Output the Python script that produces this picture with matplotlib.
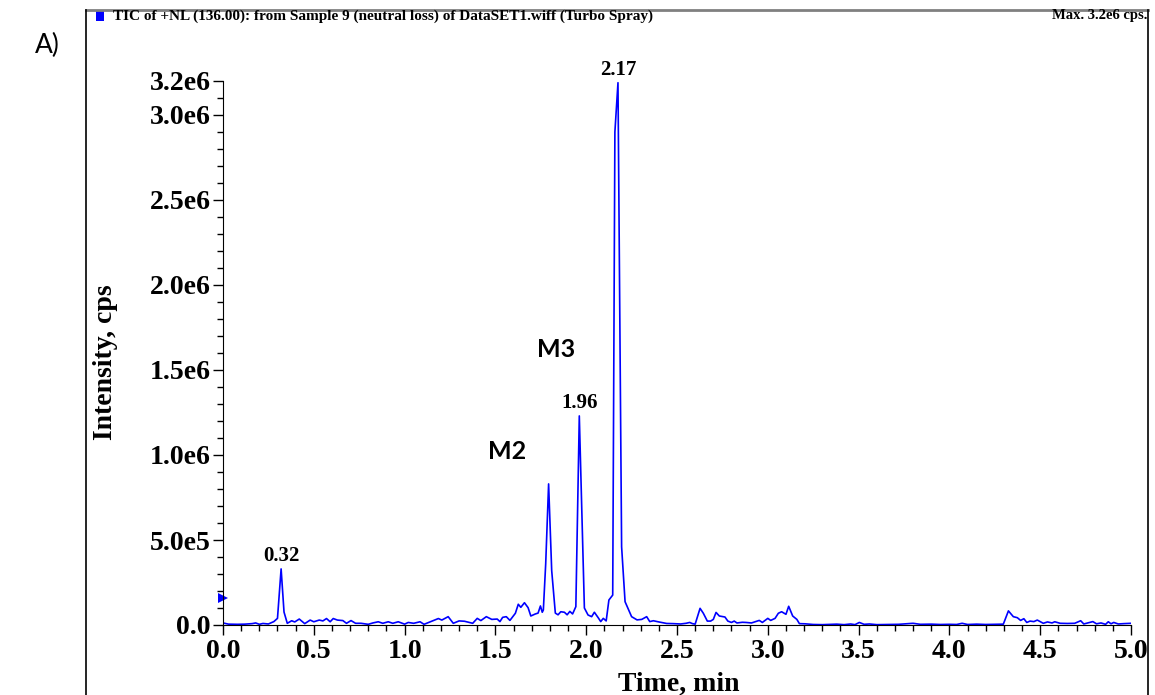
import numpy as np
import matplotlib
matplotlib.use("Agg")
import matplotlib.pyplot as plt
from matplotlib.lines import Line2D
from matplotlib.patches import Rectangle
from matplotlib.ticker import FixedLocator, MultipleLocator

# retention time (min) and TIC intensity (cps)
time_min = [
    0.00, 0.03, 0.08, 0.12, 0.16, 0.18, 0.20, 0.22, 0.25, 0.28, 0.30, 0.32,
    0.336, 0.354, 0.378, 0.395, 0.42, 0.45, 0.48, 0.50, 0.53, 0.55, 0.57,
    0.59, 0.607, 0.63, 0.66, 0.68, 0.705, 0.73, 0.76, 0.80, 0.825, 0.855,
    0.88, 0.91, 0.935, 0.965, 1.00, 1.02, 1.05, 1.085, 1.107, 1.14, 1.186,
    1.205, 1.24, 1.268, 1.30, 1.33, 1.375, 1.40, 1.42, 1.45, 1.48, 1.51,
    1.525, 1.54, 1.56, 1.58, 1.61, 1.626, 1.64, 1.66, 1.68, 1.695, 1.72,
    1.735, 1.748, 1.758, 1.764, 1.777, 1.793, 1.81, 1.83, 1.845, 1.86, 1.88,
    1.895, 1.91, 1.925, 1.943, 1.962, 1.99, 2.01, 2.03, 2.045, 2.066, 2.08,
    2.094, 2.11, 2.125, 2.146, 2.158, 2.175, 2.195, 2.214, 2.25, 2.28, 2.306,
    2.333, 2.35, 2.37, 2.40, 2.443, 2.48, 2.52, 2.55, 2.57, 2.585, 2.60,
    2.627, 2.645, 2.667, 2.685, 2.70, 2.715, 2.733, 2.764, 2.78, 2.80, 2.815,
    2.83, 2.86, 2.88, 2.91, 2.953, 2.97, 3.00, 3.016, 3.04, 3.058, 3.076,
    3.10, 3.115, 3.137, 3.16, 3.174, 3.205, 3.25, 3.30, 3.38, 3.42, 3.456,
    3.48, 3.504, 3.53, 3.56, 3.60, 3.66, 3.72, 3.80, 3.84, 3.90, 3.95, 4.00,
    4.04, 4.07, 4.10, 4.15, 4.20, 4.25, 4.297, 4.325, 4.352, 4.374, 4.392,
    4.41, 4.426, 4.444, 4.465, 4.484, 4.517, 4.54, 4.565, 4.58, 4.61, 4.65,
    4.69, 4.723, 4.74, 4.79, 4.81, 4.835, 4.86, 4.875, 4.89, 4.905, 4.93,
    4.96, 5.00,
]
intensity = [
    1.2e4, 5e3, 4e3, 5e3, 8e3, 1.2e4, 4e3, 9e3, 6e3, 2.0e4, 3.9e4, 3.3e5,
    7.6e4, 1.0e4, 2.5e4, 1.8e4, 3.5e4, 8e3, 2.9e4, 1.9e4, 2.9e4, 2.4e4, 3.8e4,
    1.9e4, 3.8e4, 2.9e4, 2.6e4, 1.0e4, 2.6e4, 1.0e4, 1.0e4, 4e3, 1.2e4, 1.9e4,
    1.0e4, 1.9e4, 1.0e4, 1.9e4, 5e3, 1.5e4, 1.0e4, 1.9e4, 4e3, 1.8e4, 3.8e4,
    2.9e4, 4.9e4, 1.0e4, 2.4e4, 2.2e4, 1.0e4, 3.9e4, 2.6e4, 4.9e4, 3.3e4, 3.5e4,
    2.0e4, 4.5e4, 4.9e4, 2.7e4, 6.9e4, 1.22e5, 1.04e5, 1.31e5, 1.02e5, 5.3e4, 6.5e4,
    7.0e4, 1.12e5, 7.5e4, 8.8e4, 3.6e5, 8.3e5, 3.2e5, 7.0e4, 6.0e4, 7.8e4, 7.5e4,
    6.0e4, 8.0e4, 6.5e4, 1.08e5, 1.23e6, 1.0e5, 5.9e4, 4.9e4, 7.5e4, 4.3e4, 2.0e4,
    3.9e4, 2.4e4, 1.47e5, 1.76e5, 2.9e6, 3.19e6, 4.6e5, 1.37e5, 4.9e4, 3.0e4, 3.3e4,
    4.9e4, 2.0e4, 2.5e4, 1.8e4, 9e3, 8e3, 6e3, 1.0e4, 1.5e4, 8e3, 5e3,
    9.8e4, 6.9e4, 2.3e4, 2.3e4, 3.3e4, 7.4e4, 5.3e4, 4.7e4, 2.3e4, 1.5e4, 2.3e4,
    1.2e4, 1.6e4, 1.5e4, 1.2e4, 2.7e4, 1.5e4, 3.9e4, 2.7e4, 3.9e4, 6.9e4, 7.8e4,
    6.3e4, 1.1e5, 5.3e4, 3.3e4, 8e3, 7e3, 3e3, 2e3, 5e3, 2e3, 6e3,
    2e3, 1.5e4, 4e3, 6e3, 2e3, 3e3, 4e3, 1.0e4, 4e3, 5e3, 3e3, 4e3,
    3e3, 1.0e4, 3e3, 5e3, 3e3, 4e3, 5e3, 8.3e4, 4.9e4, 4.3e4, 2.7e4,
    3.7e4, 1.5e4, 2.3e4, 2.0e4, 2.9e4, 1.0e4, 1.8e4, 1.2e4, 1.9e4, 1.0e4, 9e3,
    1.0e4, 2.5e4, 6e3, 2.0e4, 7e3, 1.2e4, 4e3, 1.9e4, 7e3, 1.5e4, 6e3,
    8e3, 1.0e4,
]

# labelled peaks
peak_times = [0.32, 1.962, 2.175]
peak_heights = [3.3e5, 1.23e6, 3.19e6]
peak_labels = ["0.32", "1.96", "2.17"]

# metabolite annotations (time, intensity)
met_names = ["M2", "M3"]
met_pos = [(1.564, 1.02e6), (1.834, 1.62e6)]

baseline_marker = 1.6e5

y_ticks = [0, 5e5, 1e6, 1.5e6, 2e6, 2.5e6, 3e6, 3.2e6]
y_ticklabels = ["0.0", "5.0e5", "1.0e6", "1.5e6", "2.0e6", "2.5e6", "3.0e6", "3.2e6"]
x_ticks = [0.0, 0.5, 1.0, 1.5, 2.0, 2.5, 3.0, 3.5, 4.0, 4.5, 5.0]

serif = "Liberation Serif"
sans = "Lato"

fig = plt.figure(figsize=(11.55, 6.95), dpi=100)
W, H = 1155, 695
ax = fig.add_axes([223 / W, 1 - 625 / H, (1131 - 223) / W, (625 - 81) / H])

ax.plot(time_min, intensity, color="#0000ff", lw=1.2)
ax.plot([0], [baseline_marker], marker=">", color="#0000ff", ms=7,
        clip_on=False, markeredgewidth=0)

ax.set_xlim(0, 5.0)
ax.set_ylim(0, 3.2e6)
ax.spines["top"].set_visible(False)
ax.spines["right"].set_visible(False)

ax.yaxis.set_major_locator(FixedLocator(y_ticks))
ax.set_yticklabels(y_ticklabels)
ax.yaxis.set_minor_locator(MultipleLocator(1e5))
ax.set_xticks(x_ticks)
ax.set_xticklabels([f"{x:.1f}" for x in x_ticks])
ax.xaxis.set_minor_locator(MultipleLocator(0.1))
ax.tick_params(which="major", direction="out", length=7, width=1, pad=2)
ax.tick_params(axis="x", which="major", pad=3)
ax.tick_params(which="minor", direction="out", length=4, width=1)
for lab in ax.get_xticklabels() + ax.get_yticklabels():
    lab.set_fontfamily(serif)
    lab.set_fontweight("bold")
    lab.set_fontsize(20)

ax.set_xlabel("Time, min", fontfamily=serif, fontweight="bold", fontsize=20)
ax.set_ylabel("Intensity, cps", fontfamily=serif, fontweight="bold",
              fontsize=20)
ax.xaxis.set_label_coords(0.502, -0.086)
ax.yaxis.set_label_coords(-0.116, 0.483)

for t, h, s in zip(peak_times, peak_heights, peak_labels):
    ax.annotate(s, (t, h), xytext=(0, 2), textcoords="offset points",
                ha="center", va="bottom", fontfamily=serif,
                fontweight="bold", fontsize=15)

for name, (t, h) in zip(met_names, met_pos):
    ax.text(t, h, name, ha="center", va="center", fontfamily=sans,
            fontweight="bold", fontsize=18)

# instrument frame around the trace
fx0, fx1, fy1 = 86 / W, 1148 / W, 1 - 10 / H
fig.add_artist(Line2D([fx0, fx1], [fy1, fy1], color="#808080", lw=2))
fig.add_artist(Line2D([fx0, fx0], [0, fy1], color="black", lw=1.2))
fig.add_artist(Line2D([fx1, fx1], [0, fy1], color="black", lw=1.2))
fig.add_artist(Rectangle((96 / W, 1 - 21 / H), 8 / W, 10 / H,
                         facecolor="#0000ff", edgecolor="none"))
fig.text(113 / W, 1 - 16 / H,
         "TIC of +NL (136.00): from Sample 9 (neutral loss) of DataSET1.wiff (Turbo Spray)",
         fontfamily=serif, fontweight="bold", fontsize=11, va="center")
fig.text(1147 / W, 1 - 16 / H, "Max. 3.2e6 cps.", fontfamily=serif,
         fontweight="bold", fontsize=10.5, va="center", ha="right")
fig.text(35 / W, 1 - 45 / H, "A)", fontfamily=sans, fontsize=19, va="center")

fig.savefig("out.png", dpi=100)
